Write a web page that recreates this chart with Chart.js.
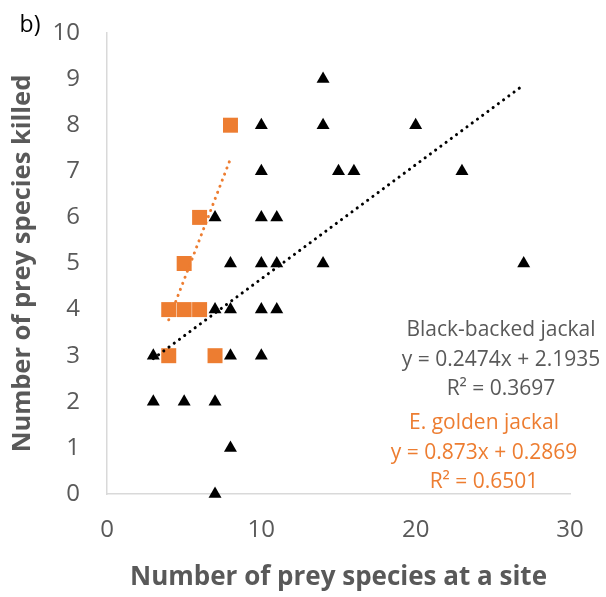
<!DOCTYPE html>
<html>
<head>
<meta charset="utf-8">
<script src="https://cdn.jsdelivr.net/npm/chart.js@4"></script>
<style>
  html, body { margin: 0; padding: 0; background: #fff; }
  #wrap { width: 606px; height: 597px; }
</style>
</head>
<body>
<div id="wrap"><canvas id="preyChart"></canvas></div>
<script>
    // Black-backed jackal sites
    const blackX = [7, 8, 3, 5, 7, 3, 8, 10, 7, 8, 10, 11, 8, 10, 11, 14, 27, 7, 10, 11, 10, 15, 16, 23, 10, 14, 20, 14];
    const blackY = [0, 1, 2, 2, 2, 3, 3, 3, 4, 4, 4, 4, 5, 5, 5, 5, 5, 6, 6, 6, 7, 7, 7, 7, 8, 8, 8, 9];

    // E. golden jackal sites
    const goldenX = [4, 7, 4, 5, 6, 5, 6, 8];
    const goldenY = [3, 3, 4, 4, 4, 5, 6, 8];

    // trend lines (slope, intercept, x range) as printed on the chart
    const blackFit = { m: 0.2474, b: 2.1935, from: 3, to: 27 };
    const goldenFit = { m: 0.873, b: 0.2869, from: 4, to: 8 };

    const xTicks = [0, 10, 20, 30];
    const yTicks = [0, 1, 2, 3, 4, 5, 6, 7, 8, 9, 10];

    const toPoints = (xs, ys) => xs.map((x, i) => ({ x: x, y: ys[i] }));
    const fitPoints = f => [f.from, f.to].map(x => ({ x: x, y: f.m * x + f.b }));

    const grey = '#595959';
    const orange = '#ED7D31';
    const font = '"Open Sans", "Noto Sans", sans-serif';

    // text that Excel places in the plot: panel letter and the equations
    const labelsPlugin = {
        id: 'labels',
        afterDraw(chart) {
            const c = chart.ctx;
            c.save();
            c.fillStyle = '#000';
            c.font = '23px ' + font;
            c.textAlign = 'center';
            c.textBaseline = 'middle';
            c.fillText('b)', 30, 25);

            c.font = '21px ' + font;
            c.fillStyle = grey;
            c.fillText('Black-backed jackal', 501, 330);
            c.fillText('y = 0.2474x + 2.1935', 501, 360);
            c.fillText('R² = 0.3697', 501, 389);
            c.fillStyle = orange;
            c.fillText('E. golden jackal', 484, 423);
            c.fillText('y = 0.873x + 0.2869', 484, 453);
            c.fillText('R² = 0.6501', 484, 482);
            c.restore();
        }
    };

    const config = {
        type: 'scatter',
        data: {
            datasets: [
                {
                    label: 'Black-backed jackal trend',
                    type: 'line',
                    data: fitPoints(blackFit),
                    borderColor: '#000',
                    borderWidth: 3,
                    borderDash: [0.1, 6.4],
                    borderCapStyle: 'round',
                    pointRadius: 0,
                    fill: false,
                    order: 0
                },
                {
                    label: 'E. golden jackal trend',
                    type: 'line',
                    data: fitPoints(goldenFit),
                    borderColor: orange,
                    borderWidth: 3,
                    borderDash: [0.1, 6.4],
                    borderCapStyle: 'round',
                    pointRadius: 0,
                    fill: false,
                    order: 0
                },
                {
                    label: 'E. golden jackal',
                    data: toPoints(goldenX, goldenY),
                    pointStyle: 'rect',
                    pointRadius: 10.6,
                    pointBackgroundColor: orange,
                    pointBorderWidth: 0,
                    clip: false,
                    order: 1
                },
                {
                    label: 'Black-backed jackal',
                    data: toPoints(blackX, blackY),
                    pointStyle: 'triangle',
                    pointRadius: 7.5,
                    pointBackgroundColor: '#000',
                    pointBorderWidth: 0,
                    clip: false,
                    order: 2
                }
            ]
        },
        options: {
            responsive: true,
            maintainAspectRatio: false,
            animation: false,
            layout: { padding: { left: 0, right: 36, top: 33, bottom: 0 } },
            plugins: {
                legend: { display: false },
                tooltip: { enabled: false }
            },
            scales: {
                x: {
                    type: 'linear',
                    min: 0,
                    max: 30,
                    afterBuildTicks: s => { s.ticks = xTicks.map(v => ({ value: v })); },
                    afterFit: s => { s.height = 103; s.paddingLeft = 0; s.paddingRight = 0; },
                    grid: { display: false, drawTicks: false },
                    border: { display: true, color: '#D9D9D9', width: 1.5 },
                    ticks: { color: grey, font: { family: font, size: 24 }, padding: 22 },
                    title: {
                        display: true,
                        text: 'Number of prey species at a site',
                        color: grey,
                        font: { family: font, size: 26, weight: 'bold' },
                        padding: { top: 4, bottom: 4 }
                    }
                },
                y: {
                    type: 'linear',
                    min: 0,
                    max: 10,
                    afterBuildTicks: s => { s.ticks = yTicks.map(v => ({ value: v })); },
                    afterFit: s => { s.width = 107; s.paddingTop = 0; s.paddingBottom = 0; },
                    grid: { display: false, drawTicks: false },
                    border: { display: true, color: '#D9D9D9', width: 1.5 },
                    ticks: { color: grey, font: { family: font, size: 24 }, padding: 27 },
                    title: {
                        display: true,
                        text: 'Number of prey species killed',
                        color: grey,
                        font: { family: font, size: 25.5, weight: 'bold' },
                        padding: { top: 7, bottom: 7 }
                    }
                }
            }
        },
        plugins: [labelsPlugin]
    };

    const ctx = document.getElementById('preyChart').getContext('2d');
    const preyChart = new Chart(ctx, config);
</script>
</body>
</html>
